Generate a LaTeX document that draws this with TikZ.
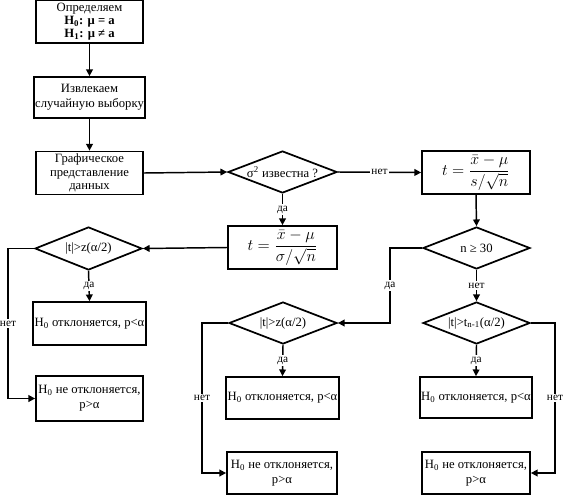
\documentclass[tikz,border=0pt]{standalone}
\usepackage{fontspec}
\usepackage{amsmath}
\setmainfont{Liberation Serif}
\usetikzlibrary{shapes.geometric,arrows.meta}
\tikzset{
  box/.style={draw,line width=1.3pt,rectangle,align=center,inner sep=1pt,font=\fontsize{9.5}{11}\selectfont},
  dia/.style={draw,line width=1.3pt,diamond,aspect=3.2,inner sep=0pt,align=center,font=\fontsize{9.5}{11}\selectfont},
  frm/.style={box,font=\fontsize{13}{14}\selectfont},
  conn/.style={line width=1.1pt,-{Triangle[length=5pt,width=5pt]}},
  lab/.style={fill=white,inner sep=1pt,font=\fontsize{8.5}{9}\selectfont}
}
\begin{document}
\begin{tikzpicture}[x=0.75pt,y=-0.75pt]
\useasboundingbox (0,0) rectangle (566,496);
% boxes
\node[box,minimum width=107*0.75pt,minimum height=43*0.75pt] (def) at (89.5,21.5)
  {Определяем\\[-1pt] \textbf{H\textsubscript{0}: μ = a}\\[-1pt] \textbf{H\textsubscript{1}: μ ≠ a}};
\node[box,minimum width=107*0.75pt,minimum height=41*0.75pt] (sample) at (89.5,97.5)
  {Извлекаем\\ случайную выборку};
\node[box,minimum width=107*0.75pt,minimum height=43*0.75pt] (graph) at (89.5,173)
  {Графическое\\[-1pt] представление\\[-1pt] данных};
\node[dia,minimum width=109*0.75pt,minimum height=42*0.75pt] (d1) at (282.5,172)
  {σ\textsuperscript{2} известна ?};
\node[frm,minimum width=109*0.75pt,minimum height=43*0.75pt] (tz) at (282.5,247.5)
  {$t=\dfrac{\bar{x}-\mu}{\sigma/\sqrt{n}}$};
\node[frm,minimum width=108*0.75pt,minimum height=43*0.75pt] (ts) at (476,172.5)
  {$t=\dfrac{\bar{x}-\mu}{s/\sqrt{n}}$};
\node[dia,minimum width=107*0.75pt,minimum height=43*0.75pt] (d2) at (88.5,248.5)
  {|t|>z(α/2)};
\node[box,minimum width=107*0.75pt,minimum height=43*0.75pt] (r1) at (89.5,323.5)
  {H\textsubscript{0} отклоняется, p<α};
\node[box,minimum width=107*0.75pt,minimum height=45*0.75pt] (n1) at (89.5,398.5)
  {H\textsubscript{0} не отклоняется,\\ p>α};
\node[dia,minimum width=107*0.75pt,minimum height=42*0.75pt] (d3) at (476.5,248)
  {n ≥ 30};
\node[dia,minimum width=108*0.75pt,minimum height=42*0.75pt] (d4) at (283,323)
  {|t|>z(α/2)};
\node[box,minimum width=107*0.75pt,minimum height=42*0.75pt] (r2) at (282.5,398)
  {H\textsubscript{0} отклоняется, p<α};
\node[box,minimum width=110*0.75pt,minimum height=42*0.75pt] (n2) at (282,473)
  {H\textsubscript{0} не отклоняется,\\ p>α};
\node[dia,minimum width=107*0.75pt,minimum height=42*0.75pt] (d5) at (476.5,323)
  {|t|>t\textsubscript{n-1}(α/2)};
\node[box,minimum width=108*0.75pt,minimum height=41*0.75pt] (r3) at (476,397.5)
  {H\textsubscript{0} отклоняется, p<α};
\node[box,minimum width=108*0.75pt,minimum height=42*0.75pt] (n3) at (476,473)
  {H\textsubscript{0} не отклоняется,\\ p>α};
% helper coordinates
\coordinate (c1) at (8,248.5);
\coordinate (c2) at (8,398.5);
\coordinate (c3) at (390,248);
\coordinate (c4) at (390,323);
\coordinate (c5) at (202,323);
\coordinate (c6) at (202,473);
\coordinate (c7) at (555,323);
\coordinate (c8) at (555,473);
% connectors
\draw[conn] (def) -- (sample);
\draw[conn] (sample) -- (graph);
\draw[conn] (graph.east) -- (d1.west);
\draw[conn] (d1.east) -- node[lab]{нет} (ts.west);
\draw[conn] (d1.south) -- node[lab]{да} (tz.north);
\draw[conn] (tz.west) -- (d2.east);
\draw[conn] (d2.south) -- node[lab]{да} (r1.north);
\draw[conn] (d2.west) -- (c1) -- node[lab,pos=0.5]{нет} (c2) -- (n1.west);
\draw[conn] (ts.south) -- (d3.north);
\draw[conn] (d3.west) -- (c3) -- node[lab]{да} (c4) -- (d4.east);
\draw[conn] (d3.south) -- node[lab]{нет} (d5.north);
\draw[conn] (d4.south) -- node[lab]{да} (r2.north);
\draw[conn] (d4.west) -- (c5) -- node[lab,pos=0.5]{нет} (c6) -- (n2.west);
\draw[conn] (d5.south) -- node[lab]{да} (r3.north);
\draw[conn] (d5.east) -- (c7) -- node[lab,pos=0.5]{нет} (c8) -- (n3.east);
\end{tikzpicture}
\end{document}
